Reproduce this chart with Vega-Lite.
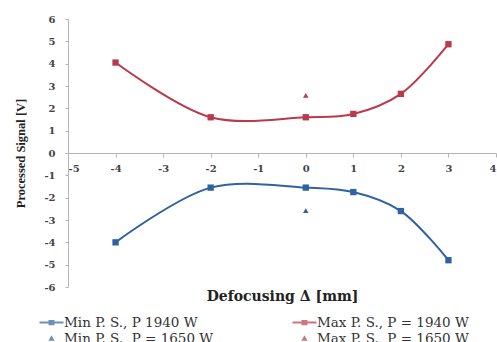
{
  "$schema": "https://vega.github.io/schema/vega-lite/v6.json",
  "width": 428,
  "height": 268,
  "autosize": {"type": "none"},
  "padding": {"left": 68, "top": 19, "right": 1, "bottom": 55},
  "background": "white",
  "config": {
    "view": {"stroke": null},
    "font": "DejaVu Serif",
    "axis": {"grid": false, "domainColor": "#b5b5b5", "tickColor": "#b5b5b5", "labelColor": "#444", "labelFont": "DejaVu Serif", "labelFontSize": 10, "labelFontWeight": "bold", "titleColor": "#222"}
  },
  "data": {
    "values": [
      {"d": -4, "v": 4.05, "series": "Max P. S., P = 1940 W", "p": 1940},
      {"d": -2, "v": 1.6, "series": "Max P. S., P = 1940 W", "p": 1940},
      {"d": 0, "v": 1.6, "series": "Max P. S., P = 1940 W", "p": 1940},
      {"d": 1, "v": 1.75, "series": "Max P. S., P = 1940 W", "p": 1940},
      {"d": 2, "v": 2.65, "series": "Max P. S., P = 1940 W", "p": 1940},
      {"d": 3, "v": 4.87, "series": "Max P. S., P = 1940 W", "p": 1940},
      {"d": -4, "v": -4.0, "series": "Min P. S., P 1940 W", "p": 1940},
      {"d": -2, "v": -1.55, "series": "Min P. S., P 1940 W", "p": 1940},
      {"d": 0, "v": -1.55, "series": "Min P. S., P 1940 W", "p": 1940},
      {"d": 1, "v": -1.75, "series": "Min P. S., P 1940 W", "p": 1940},
      {"d": 2, "v": -2.6, "series": "Min P. S., P 1940 W", "p": 1940},
      {"d": 3, "v": -4.8, "series": "Min P. S., P 1940 W", "p": 1940},
      {"d": 0, "v": 2.58, "series": "Max P. S., P = 1650 W", "p": 1650},
      {"d": 0, "v": -2.58, "series": "Min P. S., P = 1650 W", "p": 1650}
    ]
  },
  "encoding": {
    "x": {
      "field": "d", "type": "quantitative",
      "scale": {"domain": [-5, 4], "nice": false, "zero": false},
      "axis": {"values": [-5, -4, -3, -2, -1, 0, 1, 2, 3, 4], "offset": -134, "tickSize": 4, "labelPadding": 6,
               "labelExpr": "replace(datum.label, '−', '-')",
               "title": "Defocusing Δ [mm]", "titleY": 143, "titleBaseline": "middle", "titleFont": "DejaVu Serif", "titleFontSize": 14, "titleFontWeight": "bold"}
    },
    "y": {
      "field": "v", "type": "quantitative",
      "scale": {"domain": [-6, 6], "nice": false},
      "axis": {"values": [-6, -5, -4, -3, -2, -1, 0, 1, 2, 3, 4, 5, 6], "tickSize": 3, "labelPadding": 10,
               "labelExpr": "replace(datum.label, '−', '-')",
               "title": "Processed Signal [V]", "titleX": -48, "titleBaseline": "middle", "titleFont": "Liberation Serif", "titleFontSize": 12.5, "titleFontWeight": "bold"}
    }
  },
  "layer": [
    {
      "transform": [{"filter": "datum.p == 1940"}],
      "mark": {"type": "line", "interpolate": "catmull-rom", "strokeWidth": 2},
      "encoding": {
        "stroke": {"field": "series", "type": "nominal",
                   "scale": {"domain": ["Min P. S., P 1940 W", "Max P. S., P = 1940 W"], "range": ["#2f62a0", "#b83a4b"]},
                   "legend": null}
      }
    },
    {
      "transform": [{"filter": "datum.p == 1940"}],
      "mark": {"type": "point", "shape": "square", "filled": true, "opacity": 1, "size": 40},
      "encoding": {
        "fill": {"field": "series", "type": "nominal",
                 "scale": {"domain": ["Max P. S., P = 1940 W", "Min P. S., P 1940 W", "Max P. S., P = 1650 W", "Min P. S., P = 1650 W"],
                           "range": ["#b83a4b", "#2f62a0", "#b83a4b", "#2f62a0"]},
                 "legend": null}
      }
    },
    {
      "transform": [{"filter": "datum.p == 1650"}],
      "mark": {"type": "point", "shape": "triangle-up", "filled": true, "opacity": 1, "size": 30},
      "encoding": {
        "fill": {"field": "series", "type": "nominal", "legend": null}
      }
    },
    {
      "mark": {"type": "point", "filled": true, "size": 0},
      "encoding": {
        "color": {"field": "series", "type": "nominal",
                  "scale": {"domain": ["Min P. S., P 1940 W", "Max P. S., P = 1940 W", "Min P. S., P = 1650 W", "Max P. S., P = 1650 W"],
                            "range": ["#2f62a0", "#b83a4b", "#2f62a0", "#b83a4b"]},
                  "legend": {
                    "title": null, "orient": "none", "legendX": -24, "legendY": 296, "columns": 2, "direction": "horizontal",
                    "columnPadding": 78, "rowPadding": 2,
                    "labelFont": "DejaVu Serif", "labelFontSize": 13.5, "labelColor": "#333", "labelLimit": 300, "labelOffset": 5,
                    "symbolSize": 225, "symbolStrokeWidth": 0
                  }},
        "shape": {"field": "series", "type": "nominal",
                  "scale": {"domain": ["Min P. S., P 1940 W", "Max P. S., P = 1940 W", "Min P. S., P = 1650 W", "Max P. S., P = 1650 W"],
                            "range": ["M-1.6,-0.13H1.6V0.13H-1.6Z M-0.4,-0.35H0.4V0.35H-0.4Z", "M-1.6,-0.13H1.6V0.13H-1.6Z M-0.4,-0.35H0.4V0.35H-0.4Z", "M0,-0.42L0.42,0.3H-0.42Z", "M0,-0.42L0.42,0.3H-0.42Z"]}}
      }
    }
  ]
}
